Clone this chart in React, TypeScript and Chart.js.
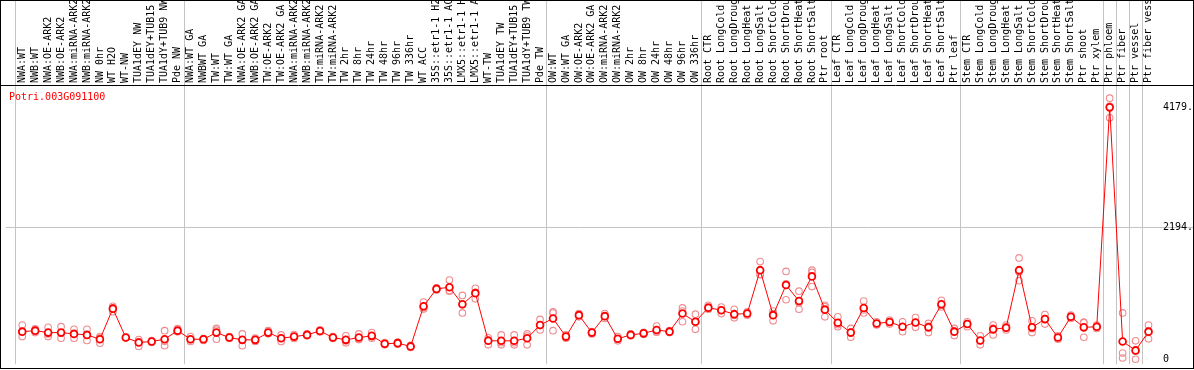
import React, { useEffect, useRef } from 'react';
import { Chart, registerables } from 'chart.js';

Chart.register(...registerables);

const geneName = 'Potri.003G091100';

const categories = [
  'NWA:WT', 'NWB:WT', 'NWA:OE-ARK2', 'NWB:OE-ARK2', 'NWA:miRNA-ARK2', 'NWB:miRNA-ARK2',
  'NW 0hr', 'WT H2O', 'WT-NW', 'TUA1dEY NW', 'TUA1dEY+TUB15 NW', 'TUA1dY+TUB9 NW', 'Pde NW',
  'NWA:WT GA', 'NWBWT GA', 'TW:WT', 'TW:WT GA', 'NWA:OE-ARK2 GA', 'NWB:OE-ARK2 GA',
  'TW:OE-ARK2', 'TW:OE-ARK2 GA', 'NWA:miRNA-ARK2 GA', 'NWB:miRNA-ARK2 GA', 'TW:miRNA-ARK2',
  'TW:miRNA-ARK2 GA', 'TW 2hr', 'TW 8hr', 'TW 24hr', 'TW 48hr', 'TW 96hr', 'TW 336hr',
  'WT ACC', '35S::etr1-1 H2O', '35S::etr1-1 ACC', 'LMX5::etr1-1 H2O', 'LMX5::etr1-1 ACC',
  'WT-TW', 'TUA1dEY TW', 'TUA1dEY+TUB15 TW', 'TUA1dY+TUB9 TW', 'Pde TW',
  'OW:WT', 'OW:WT GA', 'OW:OE-ARK2', 'OW:OE-ARK2 GA', 'OW:miRNA-ARK2', 'OW:miRNA-ARK2 GA',
  'OW 2hr', 'OW 8hr', 'OW 24hr', 'OW 48hr', 'OW 96hr', 'OW 336hr',
  'Root CTR', 'Root LongCold', 'Root LongDrought', 'Root LongHeat', 'Root LongSalt',
  'Root ShortCold', 'Root ShortDrought', 'Root ShortHeat', 'Root ShortSalt', 'Ptr root',
  'Leaf CTR', 'Leaf LongCold', 'Leaf LongDrought', 'Leaf LongHeat', 'Leaf LongSalt',
  'Leaf ShortCold', 'Leaf ShortDrought', 'Leaf ShortHeat', 'Leaf ShortSalt', 'Ptr leaf',
  'Stem CTR', 'Stem LongCold', 'Stem LongDrought', 'Stem LongHeat', 'Stem LongSalt',
  'Stem ShortCold', 'Stem ShortDrought', 'Stem ShortHeat', 'Stem ShortSalt', 'Ptr shoot',
  'Ptr xylem', 'Ptr phloem', 'Ptr fiber', 'Ptr vessel', 'Ptr fiber vessel',
];

const meanValues = [
  458, 475, 442, 442, 421, 404, 332, 840, 360, 278,
  295, 332, 475, 332, 332, 442, 360, 322, 322, 442,
  349, 376, 404, 470, 360, 322, 360, 388, 257, 267,
  213, 879, 1167, 1195, 912, 1097, 306, 306, 306, 349,
  568, 676, 376, 732, 442, 715, 339, 404, 430, 486,
  458, 758, 622, 856, 813, 748, 758, 1478, 732, 1232,
  966, 1375, 823, 606, 442, 851, 594, 617, 540, 610,
  529, 912, 458, 584, 311, 496, 524, 1478, 529, 666,
  360, 704, 529, 540, 4179, 295, 147, 458,
];

const replicate1 = [
  568, 503, 529, 540, 496, 496, 376, 879, 365, 327,
  311, 475, 507, 376, 344, 512, 376, 421, 349, 475,
  404, 409, 421, 486, 376, 388, 421, 442, 278, 283,
  229, 949, 1183, 1314, 1059, 1178, 322, 404, 404, 421,
  660, 786, 404, 758, 458, 758, 376, 421, 447, 552,
  475, 851, 748, 895, 867, 830, 786, 1620, 758, 1457,
  1129, 1478, 895, 704, 512, 966, 622, 650, 622, 692,
  594, 977, 512, 622, 388, 568, 568, 1681, 638, 741,
  388, 732, 606, 568, 4332, 769, 306, 568,
];

const replicate2 = [
  376, 442, 376, 349, 349, 311, 267, 851, 355, 213,
  278, 224, 458, 295, 311, 332, 344, 224, 295, 425,
  295, 344, 388, 453, 344, 306, 332, 349, 240, 250,
  196, 856, 1151, 1141, 769, 1003, 240, 240, 240, 240,
  486, 475, 349, 704, 421, 676, 306, 388, 414, 458,
  442, 622, 496, 830, 758, 687, 732, 1403, 638, 987,
  830, 1206, 704, 540, 365, 769, 568, 584, 458, 529,
  442, 867, 393, 540, 240, 404, 486, 1304, 442, 584,
  332, 676, 365, 512, 4005, 103, 0, 339,
];

const replicate3 = [
  458, 480, 420, 437, 418, 405, 353, 790, 360, 294,
  295, 297, 460, 325, 341, 482, 360, 321, 322, 426,
  348, 375, 404, 471, 360, 272, 327, 373, 253, 267,
  214, 832, 1167, 1130, 908, 1110, 356, 274, 274, 386,
  558, 767, 376, 734, 447, 711, 335, 403, 429, 448,
  457, 801, 622, 843, 814, 727, 756, 1411, 800, 1252,
  939, 1441, 870, 574, 449, 818, 592, 617, 540, 609,
  551, 892, 469, 590, 305, 516, 518, 1449, 507, 673,
  360, 704, 616, 540, 4200, 21, 135, 467,
];

const yTickValues = [0, 2194, 4179];
const yTickLabels = ['0', '2194.', '4179.'];
const yGridValue = 2194;
// indexes of the category boundaries that carry a vertical separator line
const groupBoundaries = [0, 13, 41, 53, 63, 73, 84, 85, 86, 87, 88];

const MONO = '"DejaVu Sans Mono", "Liberation Mono", monospace';

export default function App() {
  const ref = useRef<HTMLCanvasElement>(null);

  useEffect(() => {
    const canvas = ref.current;
    if (!canvas) return;

    const decor = {
      id: 'decor',
      afterDraw(chart: any) {
        const ctx = chart.ctx;
        ctx.save();
        ctx.strokeStyle = '#000000';
        ctx.lineWidth = 1;
        ctx.beginPath();
        ctx.moveTo(0, 85.5);
        ctx.lineTo(1194, 85.5);
        ctx.stroke();
        ctx.strokeRect(0.5, 0.5, 1193, 368);
        ctx.fillStyle = '#ff0000';
        ctx.font = '10px ' + MONO;
        ctx.textBaseline = 'middle';
        ctx.textAlign = 'left';
        ctx.fillText(geneName, 9, 97);
        ctx.restore();
      },
    };

    const repStyle = {
      type: 'line' as const,
      showLine: false,
      pointRadius: 3.3,
      pointBorderWidth: 1.1,
      pointBorderColor: 'rgb(238,140,145)',
      pointBackgroundColor: 'rgba(0,0,0,0)',
      order: 1,
    };

    const boundarySet = new Set(groupBoundaries);

    const chart = new Chart(canvas, {
      type: 'line',
      data: {
        datasets: [
          {
            label: geneName,
            data: meanValues.map((y, i) => ({ x: i, y })),
            borderColor: '#ff0000',
            borderWidth: 1,
            pointRadius: 3.4,
            pointBorderWidth: 1.8,
            pointBorderColor: '#ff0000',
            pointBackgroundColor: '#ffffff',
            tension: 0,
            order: 0,
          },
          { ...repStyle, label: 'rep1', data: replicate1.map((y, i) => ({ x: i, y })) },
          { ...repStyle, label: 'rep2', data: replicate2.map((y, i) => ({ x: i, y })) },
          { ...repStyle, label: 'rep3', data: replicate3.map((y, i) => ({ x: i, y })) },
        ] as any,
      },
      options: {
        animation: false,
        responsive: false,
        devicePixelRatio: 1,
        layout: { padding: { left: 1, right: 0, top: 0, bottom: 2 } },
        plugins: {
          legend: { display: false },
          tooltip: { enabled: false },
          title: { display: false },
        },
        scales: {
          x: {
            type: 'linear',
            position: 'top',
            min: 87.5 - 1154 / 13,
            max: 87.5,
            afterBuildTicks: (scale: any) => {
              scale.ticks = categories.map((_, i) => ({ value: i }));
            },
            afterFit: (scale: any) => {
              scale.height = 85;
            },
            ticks: {
              autoSkip: false,
              minRotation: 90,
              maxRotation: 90,
              padding: -83,
              labelOffset: 12,
              color: '#000000',
              font: { family: MONO, size: 10 },
              callback: (v: any) => categories[v as number] ?? '',
            },
            grid: {
              offset: true,
              drawTicks: true,
              tickLength: 85,
              lineWidth: 1,
              color: (ctx: any) => (boundarySet.has(ctx.index) ? '#c4c4c4' : 'rgba(0,0,0,0)'),
            },
            border: { display: false },
          },
          y: {
            type: 'linear',
            position: 'right',
            min: -82,
            max: 4550,
            afterBuildTicks: (scale: any) => {
              scale.ticks = yTickValues.map((v) => ({ value: v }));
            },
            afterFit: (scale: any) => {
              scale.width = 39;
            },
            ticks: {
              padding: -30,
              color: '#000000',
              font: { family: MONO, size: 10 },
              callback: (v: any) => yTickLabels[yTickValues.indexOf(v as number)] ?? '',
            },
            grid: {
              drawTicks: true,
              tickLength: 38,
              lineWidth: 1,
              color: (ctx: any) =>
                ctx.tick && ctx.tick.value === yGridValue ? '#c4c4c4' : 'rgba(0,0,0,0)',
            },
            border: { display: false },
          },
        },
      } as any,
      plugins: [decor],
    });

    return () => {
      chart.destroy();
    };
  }, []);

  return (
    <div style={{ position: 'absolute', left: 0, top: 0, width: 1194, height: 370, background: '#ffffff' }}>
      <canvas ref={ref} width={1194} height={370} style={{ display: 'block' }} />
    </div>
  );
}
